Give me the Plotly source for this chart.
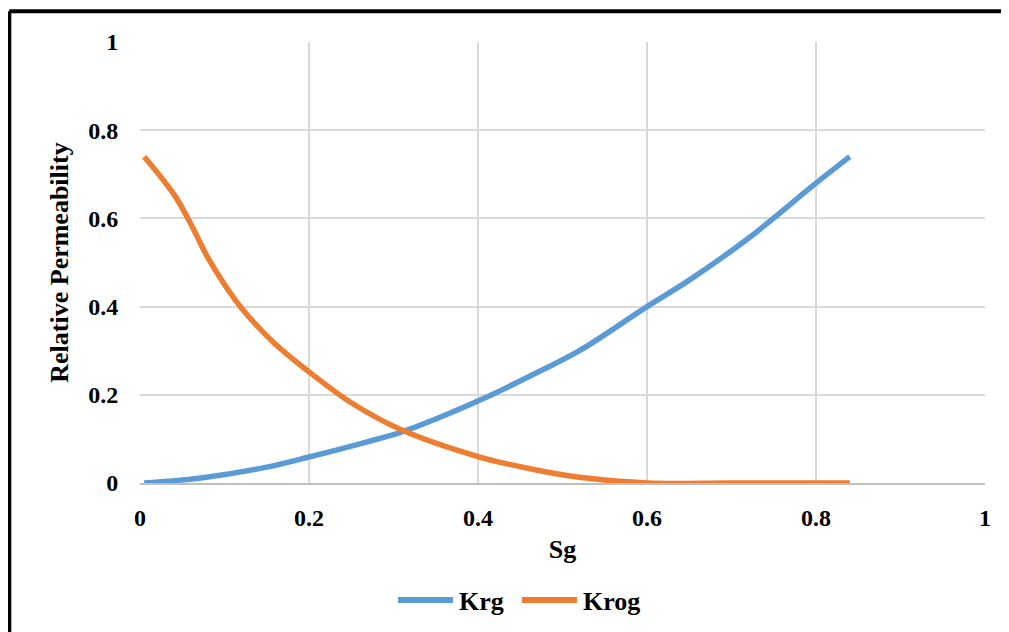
import plotly.graph_objects as go

# Data
sg_krg = [0.005, 0.07, 0.15, 0.2, 0.27, 0.31, 0.4, 0.46, 0.52, 0.6, 0.65, 0.72, 0.8, 0.84]
krg = [0.0, 0.011, 0.036, 0.059, 0.094, 0.116, 0.186, 0.241, 0.30, 0.40, 0.46, 0.555, 0.68, 0.74]

sg_krog = [0.005, 0.04, 0.06, 0.08, 0.1, 0.12, 0.16, 0.2, 0.25, 0.31, 0.4, 0.46, 0.52, 0.6, 0.7, 0.84]
krog = [0.74, 0.655, 0.588, 0.512, 0.45, 0.397, 0.315, 0.252, 0.182, 0.12, 0.06, 0.033, 0.013, 0.0, 0.0, 0.0]

x_ticks = [0, 0.2, 0.4, 0.6, 0.8, 1]
x_tick_labels = ["0", "0.2", "0.4", "0.6", "0.8", "1"]
y_ticks = [0, 0.2, 0.4, 0.6, 0.8, 1]
y_tick_labels = ["0", "0.2", "0.4", "0.6", "0.8", "1"]

series_names = ["Krg", "Krog"]
series_colors = ["#5B9BD5", "#ED7D31"]

FONT = "Liberation Serif, Times New Roman, serif"
TICK_FONT = dict(family=FONT, size=24, color="black", weight="bold")
TITLE_FONT = dict(family=FONT, size=26, color="black", weight="bold")

fig = go.Figure()
for xs, ys, name, color in zip([sg_krg, sg_krog], [krg, krog], series_names, series_colors):
    fig.add_trace(go.Scatter(x=xs, y=ys, mode="lines", name=name, showlegend=False,
                             line=dict(color=color, width=5.5, shape="spline", smoothing=1.0)))

# page has an 8px body margin, so the figure is laid out 8px up/left
W, H = 1001, 624
L, T = 132, 34
pw, ph = 845, 441
R, B = W - L - pw, H - T - ph


def px_x(v):
    return (v - L) / pw


def px_y(v):
    return (T + ph - v) / ph


fig.update_layout(
    width=W, height=H,
    margin=dict(l=L, r=R, t=T, b=B, autoexpand=False),
    paper_bgcolor="white", plot_bgcolor="white",
    font=TICK_FONT,
    showlegend=False,
    xaxis=dict(range=[0, 1], tickvals=x_ticks, ticktext=x_tick_labels,
               showgrid=True, gridcolor="#d9d9d9", gridwidth=1.5,
               zeroline=False, showline=True, linecolor="#bfbfbf", linewidth=1.5,
               ticks="outside", ticklen=0, ticklabelstandoff=12,
               tickfont=TICK_FONT,
               title=dict(text="Sg", standoff=10, font=TITLE_FONT),
               automargin=False),
    yaxis=dict(range=[0, 1], tickvals=y_ticks, ticktext=y_tick_labels,
               showgrid=True, gridcolor="#d9d9d9", gridwidth=1.5,
               zeroline=False, showline=False,
               ticks="outside", ticklen=0, ticklabelstandoff=16,
               tickfont=TICK_FONT,
               title=dict(text="Relative Permeability", standoff=12, font=TITLE_FONT),
               automargin=False),
)

# legend (Excel style: long line sample followed by the name)
legend_y = 592
legend_starts = [390, 514]
for start, name, color in zip(legend_starts, series_names, series_colors):
    fig.add_shape(type="line", xref="paper", yref="paper",
                  x0=px_x(start), x1=px_x(start + 55), y0=px_y(legend_y), y1=px_y(legend_y),
                  line=dict(color=color, width=6))
    fig.add_annotation(xref="paper", yref="paper", x=px_x(start + 59), y=px_y(legend_y + 1),
                       xanchor="left", yanchor="middle", text=name, showarrow=False,
                       font=TITLE_FONT)

# chart border (top and left edges visible in the reference)
xl = px_x(1.3)
yt = px_y(3.3)
fig.add_shape(type="line", xref="paper", yref="paper", x0=xl, x1=px_x(W + 5), y0=yt, y1=yt,
              line=dict(color="black", width=4))
fig.add_shape(type="line", xref="paper", yref="paper", x0=xl, x1=xl, y0=yt, y1=px_y(H + 5),
              line=dict(color="black", width=4))

fig.write_html("out.html")
